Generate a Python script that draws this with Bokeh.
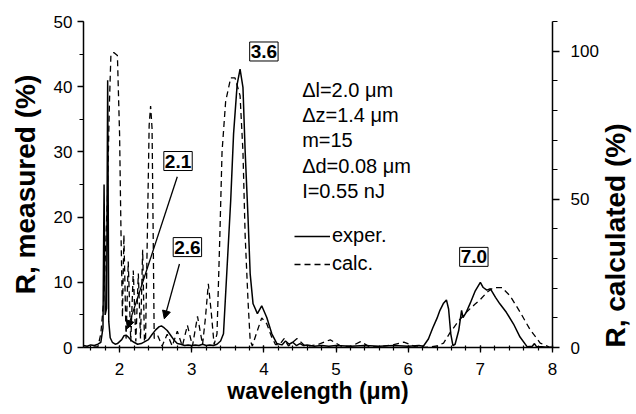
import math
from bokeh.plotting import figure
from bokeh.models import (Range1d, LinearAxis, SingleIntervalTicker, Label, Arrow,
                          NormalHead, Legend, LegendItem)
from bokeh.embed import file_html
from bokeh.resources import INLINE

# ---------------- data ----------------
# measured reflectance, left axis (%)
exp_x = [1.50, 1.55, 1.60, 1.65, 1.70, 1.74, 1.77, 1.785, 1.80, 1.82, 1.835, 1.85, 1.87, 1.90, 1.94, 1.97, 2.00,
         2.03, 2.06, 2.09, 2.12, 2.16, 2.20, 2.25, 2.30, 2.35, 2.40, 2.45, 2.50, 2.55, 2.58, 2.62, 2.66, 2.70,
         2.75, 2.80, 2.85, 2.90, 2.95, 3.00, 3.05, 3.10, 3.15, 3.20, 3.25, 3.30, 3.35, 3.40,
         3.44, 3.49, 3.54, 3.58, 3.63, 3.67, 3.71, 3.74, 3.78, 3.81, 3.85, 3.91, 3.97, 4.04, 4.11, 4.18,
         4.25, 4.30, 4.35, 4.40, 4.45, 4.50, 4.55, 4.60, 4.70, 4.80, 4.90, 5.00, 5.20, 5.40, 5.60, 5.80, 6.00,
         6.15, 6.21,
         6.28, 6.34, 6.40, 6.44, 6.49, 6.53, 6.56, 6.59, 6.62, 6.65, 6.70, 6.74, 6.76, 6.80, 6.86, 6.93, 7.00,
         7.04, 7.09, 7.14, 7.21, 7.27, 7.36, 7.46, 7.55, 7.65, 7.72, 7.75, 7.78, 7.85, 7.95, 8.00]
exp_y = [0.3, 0.2, 0.4, 0.3, 0.5, 0.8, 3.0, 25.0, 5.0, 6.0, 41.0, 4.0, 1.5, 0.8, 0.5, 0.6, 0.9,
         1.2, 1.8, 1.9, 1.6, 1.1, 0.8, 0.5, 0.6, 0.9, 1.2, 2.0, 2.7, 3.2, 3.3, 3.0, 2.6, 2.0,
         1.2, 0.6, 0.5, 0.3, 0.4, 0.3, 0.4, 0.3, 0.5, 0.3, 0.4, 0.3, 0.5, 1.0,
         2.1, 12.3, 22.5, 32.8, 40.4, 42.7, 39.9, 30.2, 20.0, 11.3, 6.7, 5.2, 6.4, 4.6, 2.1, 0.6,
         0.4, 1.0, 0.5, 0.8, 0.3, 0.6, 0.3, 0.4, 0.2, 0.3, 0.2, 0.3, 0.2, 0.3, 0.2, 0.3, 0.2,
         0.3, 0.2,
         1.3, 3.0, 4.5, 5.7, 6.8, 7.3, 5.9, 2.1, 0.3, 0.5, 2.6, 5.7, 4.6, 5.3, 6.8, 8.7, 10.0,
         9.2, 8.8, 9.0, 7.7, 6.7, 5.4, 3.6, 1.6, 0.1, 0.2, 0.6, 0.1, 0.1, 0.0, 0.0]

# calculated reflectance, right axis (%)
calc_x = [1.50, 1.60, 1.70, 1.74, 1.78, 1.83, 1.86, 1.88, 1.92, 1.97, 2.00, 2.02, 2.04,
          2.06, 2.09, 2.12, 2.155, 2.19, 2.225, 2.26, 2.29, 2.32, 2.345, 2.36, 2.39, 2.41, 2.43, 2.45, 2.465, 2.48,
          2.53, 2.59, 2.66, 2.73, 2.80, 2.87, 2.94, 3.01, 3.08, 3.15, 3.19, 3.23, 3.27, 3.31,
          3.35, 3.39, 3.42, 3.47, 3.54, 3.60, 3.67, 3.71, 3.74, 3.78, 3.81, 3.84, 3.90, 3.97, 4.04, 4.10, 4.16,
          4.22, 4.28, 4.34, 4.46, 4.58, 4.75, 4.92, 5.08, 5.22, 5.34, 5.46, 5.62, 5.80, 5.94, 6.10, 6.21,
          6.30, 6.40, 6.49, 6.58, 6.70, 6.81, 6.92, 7.00, 7.09, 7.18, 7.30, 7.41, 7.55, 7.69, 7.83, 7.95, 8.00]
calc_y = [0.0, 0.0, 0.3, 4.6, 15.8, 49.5, 83.0, 98.9, 99.5, 98.5, 72.0, 38.3, 10.2,
          38.0, 3.0, 29.0, 2.0, 26.0, 2.0, 25.0, 3.0, 33.0, 2.0, 3.0, 45.0, 75.0, 81.5, 74.0, 40.0, 3.0,
          4.0, 0.5, 4.5, 0.5, 5.5, 0.5, 7.5, 0.5, 10.5, 1.0, 10.0, 21.5, 12.0, 1.0,
          4.6, 38.0, 66.0, 83.0, 91.0, 91.0, 85.0, 66.0, 38.0, 15.8, 2.4, 0.5, 5.0, 10.0, 8.0, 4.0, 1.0,
          1.0, 3.0, 0.5, 3.0, 0.3, 1.0, 2.6, 0.3, 0.5, 2.0, 0.3, 0.3, 1.0, 1.8, 0.3, 0.0,
          0.2, 0.5, 1.5, 5.0, 9.0, 12.0, 14.5, 16.2, 18.6, 20.2, 20.2, 17.5, 12.0, 6.0, 1.5, 0.2, 0.0]

peak_labels = ["2.1", "2.6", "3.6", "7.0"]
peak_label_x = [2.81, 2.94, 4.00, 6.91]
peak_label_y = [28.6, 15.4, 45.4, 13.9]

param_lines = ["\u0394l=2.0 \u03bcm", "\u0394z=1.4 \u03bcm", "m=15", "\u0394d=0.08 \u03bcm", "I=0.55 nJ"]

FONT = "Liberation Sans"
BG = "white"

p = figure(frame_width=469, frame_height=326, x_range=Range1d(1.5, 8.0), y_range=Range1d(0, 50),
           output_backend="svg", toolbar_location=None,
           min_border_left=83, min_border_right=84, min_border_top=21, min_border_bottom=59,
           background_fill_color=BG, border_fill_color=BG)
p.outline_line_color = None
p.xgrid.visible = False
p.ygrid.visible = False
p.extra_y_ranges = {"calc": Range1d(0, 110)}

r_exp = p.line(exp_x, exp_y, line_color="black", line_width=1.5)
r_calc = p.line(calc_x, calc_y, line_color="black", line_width=1.3, line_dash="6 4", y_range_name="calc")

right_axis = LinearAxis(y_range_name="calc", axis_label="R, calculated (%)")
p.add_layout(right_axis, "right")

xa = p.xaxis[0]
ya = p.yaxis[0]
xa.ticker = SingleIntervalTicker(interval=1, num_minor_ticks=5)
ya.ticker = SingleIntervalTicker(interval=10, num_minor_ticks=2)
right_axis.ticker = SingleIntervalTicker(interval=50, num_minor_ticks=5)
xa.axis_label = "wavelength (\u03bcm)"
ya.axis_label = "R, measured (%)"

for ax in (xa, ya, right_axis):
    ax.axis_line_color = "black"
    ax.axis_line_width = 1.5
    ax.major_tick_line_color = "black"
    ax.minor_tick_line_color = "black"
    ax.major_tick_line_width = 1.3
    ax.minor_tick_line_width = 1.2
    ax.major_label_text_font = FONT
    ax.major_label_text_font_size = "17px"
    ax.major_label_text_color = "black"
    ax.axis_label_text_font = FONT
    ax.axis_label_text_font_style = "bold"
    ax.axis_label_text_color = "black"
    ax.axis_label_text_font_size = "28px"

# right-hand title reads bottom-to-top like the left one, starting near the bottom
try:
    right_axis.axis_label_orientation = math.pi / 2
except Exception:
    pass
try:
    right_axis.axis_label_align = "start"
except Exception:
    pass

xa.major_tick_in = 2
xa.major_tick_out = 5
xa.minor_tick_in = 2
xa.minor_tick_out = 3
xa.major_label_standoff = 10
xa.axis_label_standoff = 0
xa.axis_label_text_font_size = "23px"

ya.major_tick_in = 0
ya.major_tick_out = 6
ya.minor_tick_in = 0
ya.minor_tick_out = 4
ya.major_label_standoff = 5
ya.axis_label_standoff = 10

right_axis.major_tick_in = 0
right_axis.major_tick_out = 7
right_axis.minor_tick_in = 0
right_axis.minor_tick_out = 5
right_axis.major_label_standoff = 11
right_axis.axis_label_standoff = 14

# boxed peak labels
for t, lx, ly in zip(peak_labels, peak_label_x, peak_label_y):
    lab = Label(x=lx, y=ly, text=t, text_font=FONT, text_font_style="bold", text_font_size="19px",
                text_align="center", text_baseline="middle", text_color="black",
                border_line_color="black", border_line_width=1, background_fill_color="white")
    try:
        lab.padding = (1, 3)
    except Exception:
        try:
            lab.padding = 2
        except Exception:
            pass
    p.add_layout(lab)

# arrows from the 2.1 and 2.6 labels
p.add_layout(Arrow(end=NormalHead(size=8, fill_color="black", line_color="black", line_width=1),
                   x_start=2.80, y_start=26.2, x_end=2.11, y_end=2.9, line_color="black", line_width=1.3))
p.add_layout(Arrow(end=NormalHead(size=8, fill_color="black", line_color="black", line_width=1),
                   x_start=2.83, y_start=12.8, x_end=2.62, y_end=4.4, line_color="black", line_width=1.3))

# parameter block
param_y = [39.5, 35.7, 31.8, 27.9, 24.0]
for t, ty in zip(param_lines, param_y):
    p.add_layout(Label(x=4.53, y=ty, text=t, text_font=FONT, text_font_size="20px",
                       text_align="left", text_baseline="middle", text_color="black"))

legend = Legend(items=[LegendItem(label="exper.", renderers=[r_exp]),
                       LegendItem(label="calc.", renderers=[r_calc])],
                location=(211, 72), padding=0, margin=0, spacing=5,
                glyph_width=36, glyph_height=20, label_height=20, label_standoff=2,
                label_text_font=FONT, label_text_font_size="20px", label_text_color="black",
                border_line_alpha=0, background_fill_alpha=0)
p.add_layout(legend)

open("out.html", "w").write(file_html(p, INLINE))
